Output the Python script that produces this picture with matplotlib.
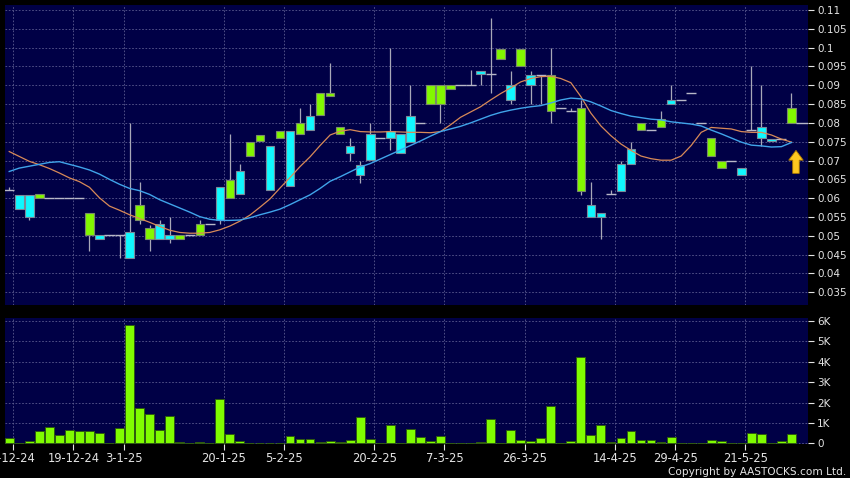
import numpy as np
import matplotlib.pyplot as plt
from matplotlib.patches import FancyArrow

# daily candles (cyan = close above open, lime = close below open)
opens = [0.0622, 0.0571, 0.0550, 0.0610, 0.0600, 0.0600, 0.0600, 0.0600, 0.0560, 0.0492,
         0.0502, 0.0502, 0.0441, 0.0582, 0.0520, 0.0491, 0.0491, 0.0501, 0.0502, 0.0531,
         0.0531, 0.0542, 0.0649, 0.0611, 0.0750, 0.0769, 0.0622, 0.0779, 0.0633, 0.0799,
         0.0781, 0.0879, 0.0879, 0.0790, 0.0719, 0.0661, 0.0701, 0.0761, 0.0760, 0.0719,
         0.0750, 0.0799, 0.0900, 0.0900, 0.0900, 0.0900, 0.0900, 0.0929, 0.0929, 0.0996,
         0.0861, 0.0996, 0.0900, 0.0928, 0.0928, 0.0839, 0.0832, 0.0839, 0.0550, 0.0550,
         0.0611, 0.0620, 0.0690, 0.0799, 0.0781, 0.0810, 0.0850, 0.0861, 0.0879, 0.0799,
         0.0759, 0.0700, 0.0700, 0.0661, 0.0781, 0.0761, 0.0752, 0.0758, 0.0839]
highs = [0.0631, 0.0609, 0.0609, 0.0610, 0.0600, 0.0600, 0.0600, 0.0600, 0.0560, 0.0502,
         0.0502, 0.0502, 0.0799, 0.0642, 0.0529, 0.0542, 0.0550, 0.0501, 0.0502, 0.0542,
         0.0531, 0.0631, 0.0770, 0.0690, 0.0750, 0.0769, 0.0740, 0.0779, 0.0779, 0.0841,
         0.0850, 0.0879, 0.0960, 0.0790, 0.0761, 0.0700, 0.0799, 0.0761, 0.1000, 0.0770,
         0.0901, 0.0799, 0.0900, 0.0900, 0.0900, 0.0900, 0.0941, 0.0939, 0.1078, 0.0996,
         0.0939, 0.0996, 0.0939, 0.0928, 0.1000, 0.0839, 0.0839, 0.0861, 0.0642, 0.0560,
         0.0622, 0.0700, 0.0750, 0.0799, 0.0781, 0.0832, 0.0900, 0.0861, 0.0879, 0.0799,
         0.0759, 0.0700, 0.0700, 0.0680, 0.0950, 0.0900, 0.0758, 0.0758, 0.0879]
lows = [0.0622, 0.0571, 0.0541, 0.0600, 0.0600, 0.0600, 0.0600, 0.0600, 0.0461, 0.0492,
        0.0502, 0.0441, 0.0441, 0.0532, 0.0461, 0.0491, 0.0481, 0.0491, 0.0502, 0.0502,
        0.0531, 0.0531, 0.0600, 0.0611, 0.0712, 0.0752, 0.0622, 0.0761, 0.0633, 0.0771,
        0.0781, 0.0821, 0.0871, 0.0771, 0.0700, 0.0640, 0.0701, 0.0761, 0.0728, 0.0719,
        0.0750, 0.0799, 0.0850, 0.0799, 0.0890, 0.0900, 0.0900, 0.0900, 0.0879, 0.0969,
        0.0850, 0.0951, 0.0850, 0.0850, 0.0799, 0.0839, 0.0832, 0.0609, 0.0550, 0.0491,
        0.0611, 0.0620, 0.0690, 0.0781, 0.0781, 0.0790, 0.0850, 0.0861, 0.0879, 0.0799,
        0.0712, 0.0680, 0.0700, 0.0661, 0.0781, 0.0740, 0.0752, 0.0758, 0.0799]
closes = [0.0622, 0.0609, 0.0609, 0.0600, 0.0600, 0.0600, 0.0600, 0.0600, 0.0502, 0.0502,
          0.0502, 0.0502, 0.0510, 0.0541, 0.0491, 0.0531, 0.0501, 0.0491, 0.0502, 0.0502,
          0.0531, 0.0631, 0.0600, 0.0671, 0.0712, 0.0752, 0.0740, 0.0761, 0.0779, 0.0771,
          0.0819, 0.0821, 0.0871, 0.0771, 0.0740, 0.0689, 0.0770, 0.0761, 0.0779, 0.0770,
          0.0819, 0.0799, 0.0850, 0.0850, 0.0890, 0.0900, 0.0900, 0.0939, 0.0929, 0.0969,
          0.0900, 0.0951, 0.0928, 0.0928, 0.0832, 0.0839, 0.0832, 0.0620, 0.0581, 0.0560,
          0.0611, 0.0690, 0.0730, 0.0781, 0.0781, 0.0790, 0.0861, 0.0861, 0.0879, 0.0799,
          0.0712, 0.0680, 0.0700, 0.0680, 0.0781, 0.0790, 0.0758, 0.0758, 0.0799]

# moving averages as drawn (orange short, blue long)
ma_short = [0.0724, 0.0711, 0.0698, 0.0689, 0.0679, 0.0667, 0.0654, 0.0644, 0.0629, 0.0601,
            0.0579, 0.0568, 0.0556, 0.0546, 0.0536, 0.0525, 0.0515, 0.0509, 0.0507, 0.0507,
            0.0509, 0.0516, 0.0526, 0.0539, 0.0555, 0.0576, 0.0598, 0.0627, 0.0655, 0.0684,
            0.0710, 0.0740, 0.0768, 0.0778, 0.0782, 0.0777, 0.0776, 0.0776, 0.0777, 0.0776,
            0.0775, 0.0775, 0.0774, 0.0777, 0.0795, 0.0815, 0.0829, 0.0843, 0.0861, 0.0878,
            0.0893, 0.0909, 0.0918, 0.0923, 0.0924, 0.0918, 0.0907, 0.0870, 0.0826, 0.0792,
            0.0766, 0.0744, 0.0727, 0.0712, 0.0705, 0.0701, 0.0701, 0.0712, 0.0740, 0.0775,
            0.0788, 0.0786, 0.0784, 0.0777, 0.0775, 0.0775, 0.0768, 0.0757, 0.0749]
ma_long = [0.0671, 0.0680, 0.0685, 0.0690, 0.0695, 0.0697, 0.0690, 0.0683, 0.0675, 0.0664,
           0.0650, 0.0637, 0.0626, 0.0620, 0.0610, 0.0596, 0.0585, 0.0574, 0.0563, 0.0551,
           0.0544, 0.0541, 0.0541, 0.0542, 0.0548, 0.0556, 0.0563, 0.0571, 0.0583, 0.0596,
           0.0609, 0.0626, 0.0645, 0.0657, 0.0670, 0.0683, 0.0692, 0.0704, 0.0716, 0.0728,
           0.0740, 0.0752, 0.0765, 0.0777, 0.0784, 0.0791, 0.0800, 0.0810, 0.0820, 0.0828,
           0.0834, 0.0839, 0.0843, 0.0846, 0.0853, 0.0861, 0.0866, 0.0864, 0.0856, 0.0845,
           0.0833, 0.0825, 0.0818, 0.0814, 0.0810, 0.0808, 0.0803, 0.0800, 0.0797, 0.0792,
           0.0781, 0.0771, 0.0760, 0.0749, 0.0741, 0.0739, 0.0736, 0.0737, 0.0748]

volume = [250, 30, 130, 590, 800, 390, 640, 590, 620, 490,
          20, 750, 5800, 1750, 1420, 670, 1320, 60, 10, 60,
          10, 2170, 440, 110, 40, 10, 30, 10, 375, 200,
          200, 50, 100, 60, 180, 1290, 200, 40, 880, 40,
          720, 330, 130, 375, 40, 10, 40, 50, 1180, 10,
          650, 160, 110, 260, 1850, 40, 130, 4220, 420, 900,
          60, 280, 590, 160, 150, 50, 310, 0, 0, 10,
          160, 100, 0, 0, 490, 480, 0, 100, 460]

tick_idx = [0, 6, 11, 21, 27, 36, 43, 51, 60, 66, 73]
tick_lbl = ["4-12-24", "19-12-24", "3-1-25", "20-1-25", "5-2-25", "20-2-25",
            "7-3-25", "26-3-25", "14-4-25", "29-4-25", "21-5-25"]

o = np.array(opens)
h = np.array(highs)
l = np.array(lows)
c = np.array(closes)
x = np.arange(len(c))

bg = "#000046"
gridc = "#5c5c90"
txt = "#e4e4e4"

fig = plt.figure(figsize=(8.5, 4.78), dpi=100, facecolor="black")
ax = fig.add_axes([0.0053, 0.3619, 0.9447, 0.6276], facecolor=bg)
axv = fig.add_axes([0.0053, 0.0711, 0.9447, 0.2630], facecolor=bg)

xt = np.array(tick_idx) + 0.4
for a in (ax, axv):
    a.set_xlim(-0.47, 79.6)
    a.set_xticks(xt)
    a.grid(True, color=gridc, linestyle=(0, (2, 2)), linewidth=0.6)
    a.set_axisbelow(True)
    for s in a.spines.values():
        s.set_visible(False)
    a.yaxis.tick_right()
    a.tick_params(axis="y", colors=txt, labelcolor=txt, length=4, pad=3, labelsize=7.5)

# candles
ax.vlines(x, l, h, color="#a8a8b8", linewidth=0.9, zorder=2)
up = c > o
dn = c < o
flat = c == o
ax.bar(x[up], (c - o)[up], bottom=o[up], width=0.85, color="#10f8ff",
       edgecolor="#7a8a9a", linewidth=0.8, zorder=3)
ax.bar(x[dn], (o - c)[dn], bottom=c[dn], width=0.85, color="#82f800",
       edgecolor="#7a8a6a", linewidth=0.8, zorder=3)
ax.hlines(c[flat], x[flat] - 0.5, x[flat] + 0.5, color="#b8b8c8", linewidth=1.0, zorder=3)
ax.hlines(c[-1], x[-1] + 0.45, 79.6, color="#b8b8c8", linewidth=1.0, zorder=3)

ax.plot(x, ma_short, color="#d88a58", linewidth=0.9, zorder=4)
ax.plot(x, ma_long, color="#40a4ea", linewidth=1.0, zorder=4)

# yellow arrow under the last candle
tip = ma_long[-1] - 0.0021
ax.add_patch(FancyArrow(x[-1] + 0.45, tip - 0.0061, 0, 0.0061, width=0.65, head_width=1.45,
                        head_length=0.0026, length_includes_head=True,
                        facecolor="#ffc820", edgecolor="#b07a00", linewidth=0.6, zorder=5))

ax.set_ylim(0.03162, 0.11133)
yt = np.arange(0.035, 0.1101, 0.005)
ax.set_yticks(yt)
ax.set_yticklabels(["%g" % round(v, 3) for v in yt])
ax.tick_params(axis="x", length=0, labelbottom=False)

# volume
axv.bar(x, volume, width=0.88, color="#80fc00", edgecolor="#2f5a10", linewidth=0.7, zorder=3)
axv.set_ylim(-34, 6127)
axv.set_yticks(np.arange(0, 6001, 1000))
axv.set_yticklabels(["0"] + ["%dK" % k for k in range(1, 7)])
axv.set_xticklabels(tick_lbl)
axv.tick_params(axis="x", colors=txt, labelcolor=txt, length=4, pad=2, labelsize=8.3)

fig.text(0.995, 0.002, "Copyright by AASTOCKS.com Ltd.", color=txt, fontsize=7.6,
         ha="right", va="bottom")

plt.savefig("out.png", dpi=100, facecolor="black")
